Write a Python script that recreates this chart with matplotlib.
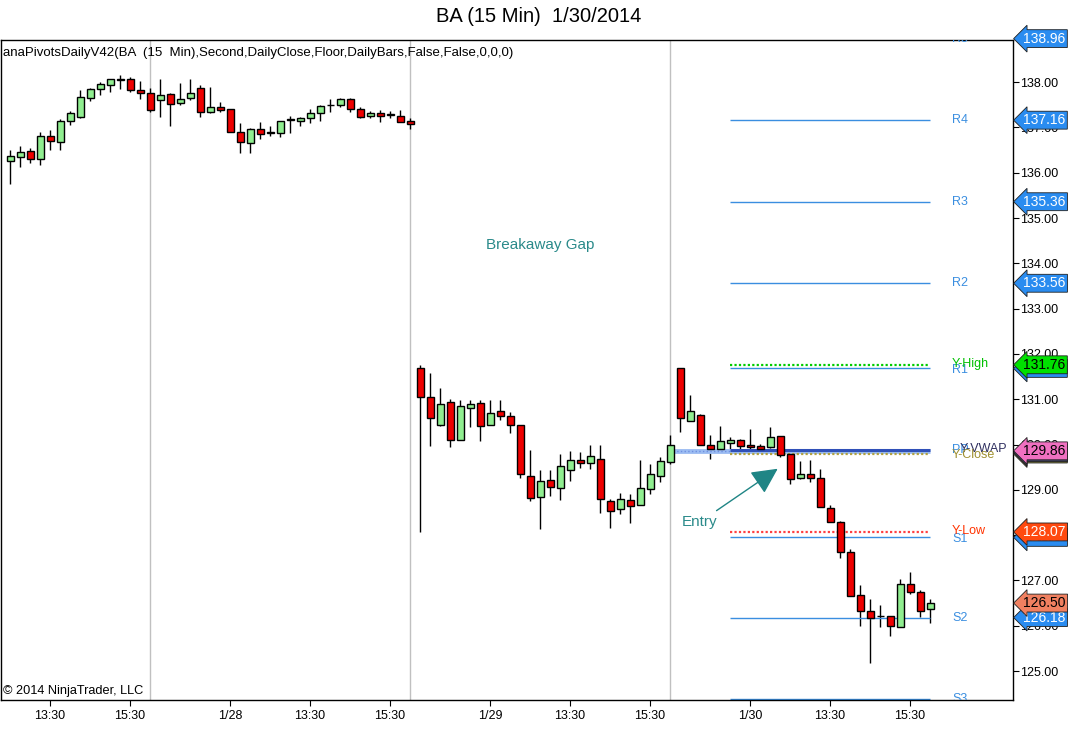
import numpy as np
import matplotlib
matplotlib.use('Agg')
import matplotlib.pyplot as plt
import matplotlib.transforms as mtransforms

# 15 minute bars, BA, 1/27 12:30 .. 1/30 16:00
opens = [136.25, 136.35, 136.47, 136.31, 136.82, 136.67, 137.15, 137.22, 137.66, 137.84,
         137.93, 138.04, 138.08, 137.82, 137.77, 137.60, 137.73, 137.54, 137.66, 137.88,
         137.34, 137.44, 137.40, 136.91, 136.65, 136.96, 136.89, 136.88, 137.17, 137.15,
         137.20, 137.31, 137.49, 137.49, 137.62, 137.40, 137.26, 137.32, 137.28, 137.26,
         137.14, 131.68, 131.04, 130.43, 130.93, 130.10, 130.80, 130.91, 130.42, 130.73,
         130.62, 130.42, 129.30, 128.85, 129.21, 129.03, 129.43, 129.65, 129.60, 129.69,
         128.75, 128.57, 128.77, 128.66, 129.01, 129.31, 129.62, 131.68, 130.51, 130.66,
         129.98, 129.91, 130.04, 130.11, 129.99, 129.97, 129.94, 130.19, 129.78, 129.25,
         129.36, 129.27, 128.59, 128.28, 127.62, 126.67, 126.33, 126.21, 126.22, 125.98,
         126.93, 126.74, 126.36]
highs = [136.51, 136.59, 136.54, 136.90, 136.94, 137.19, 137.37, 137.82, 137.86, 138.00,
         138.08, 138.15, 138.12, 138.02, 137.88, 138.06, 137.77, 137.97, 138.08, 137.93,
         137.90, 137.57, 137.40, 137.10, 136.99, 137.11, 137.04, 137.15, 137.26, 137.24,
         137.40, 137.50, 137.62, 137.64, 137.64, 137.44, 137.36, 137.38, 137.37, 137.38,
         137.20, 131.75, 131.57, 131.24, 131.00, 130.98, 130.98, 130.98, 130.98, 130.98,
         130.71, 130.42, 129.88, 129.43, 129.43, 129.79, 129.85, 129.83, 129.99, 129.99,
         128.79, 128.93, 128.91, 129.66, 129.58, 129.72, 130.20, 131.68, 131.09, 130.68,
         130.21, 130.41, 130.16, 130.13, 130.34, 130.02, 130.38, 130.19, 129.78, 129.63,
         129.66, 129.46, 128.66, 128.31, 127.69, 126.90, 126.59, 126.45, 126.22, 127.04,
         127.19, 126.79, 126.59]
lows = [135.76, 136.12, 136.21, 136.17, 136.51, 136.50, 137.05, 137.20, 137.59, 137.72,
        137.79, 137.84, 137.79, 137.62, 137.34, 137.23, 137.04, 137.50, 137.60, 137.23,
        137.31, 137.34, 136.90, 136.44, 136.43, 136.75, 136.82, 136.79, 136.88, 137.04,
        137.09, 137.15, 137.33, 137.46, 137.33, 137.21, 137.21, 137.12, 137.20, 137.11,
        136.97, 128.06, 129.97, 130.41, 129.95, 130.09, 130.39, 130.08, 130.42, 130.54,
        130.26, 129.27, 128.76, 128.13, 128.87, 128.77, 129.20, 129.49, 129.47, 128.49,
        128.15, 128.47, 128.26, 128.66, 128.91, 129.18, 129.58, 130.28, 130.51, 129.99,
        129.68, 129.89, 129.82, 129.79, 129.88, 129.89, 129.93, 129.73, 129.12, 129.23,
        129.18, 128.61, 128.28, 127.49, 126.66, 126.00, 125.17, 125.98, 125.78, 125.98,
        126.71, 126.20, 126.07]
closes = [136.37, 136.45, 136.31, 136.82, 136.71, 137.15, 137.31, 137.68, 137.84, 137.95,
          138.06, 138.08, 137.82, 137.75, 137.38, 137.71, 137.51, 137.63, 137.77, 137.33,
          137.44, 137.38, 136.90, 136.67, 136.96, 136.85, 136.87, 137.15, 137.17, 137.21,
          137.32, 137.47, 137.49, 137.62, 137.40, 137.23, 137.32, 137.26, 137.28, 137.12,
          137.07, 131.04, 130.58, 130.89, 130.11, 130.84, 130.89, 130.40, 130.69, 130.63,
          130.42, 129.34, 128.81, 129.19, 129.07, 129.52, 129.65, 129.60, 129.74, 128.79,
          128.54, 128.79, 128.65, 129.03, 129.34, 129.63, 130.00, 130.58, 130.75, 129.99,
          129.91, 130.07, 130.11, 129.97, 129.94, 129.91, 130.16, 129.77, 129.23, 129.35,
          129.25, 128.61, 128.28, 127.62, 126.66, 126.33, 126.18, 126.21, 125.99, 126.93,
          126.75, 126.33, 126.50]

session_ends = [14, 40, 66]
tick_pos = [4, 12, 22, 30, 38, 48, 56, 64, 74, 82, 90]
tick_labels = ['13:30', '15:30', '1/28', '13:30', '15:30', '1/29',
               '13:30', '15:30', '1/30', '13:30', '15:30']

pivot_names = ['R5', 'R4', 'R3', 'R2', 'R1', 'PP', 'S1', 'S2', 'S3']
pivot_values = [138.96, 137.16, 135.36, 133.56, 131.68, 129.87, 127.95, 126.18, 124.38]
y_high = 131.76
y_low = 128.07
y_close = 129.79
y_vwap = 129.86
last_price = 126.50

plt.rcParams['font.family'] = ['Liberation Sans', 'DejaVu Sans']

fig = plt.figure(figsize=(10.77, 7.56), dpi=100)
ax = fig.add_axes([1 / 1077, 56 / 756, 1012 / 1077, 660 / 756])

# session dividers
for s in session_ends:
    ax.axvline(s, color='#c0c0c0', lw=1, zorder=1)

# candles
x = np.arange(len(opens))
for i in x:
    o, h, l, c = opens[i], highs[i], lows[i], closes[i]
    ax.vlines(i, l, h, color='black', lw=1, zorder=2)
    col = '#90ee90' if c >= o else '#ee0000'
    ax.bar(i, max(abs(c - o), 0.012), bottom=min(o, c), width=0.7,
           color=col, edgecolor='black', lw=1, zorder=3)

# yesterday vwap band and pivot lines
ax.hlines(y_vwap, 66.3, 92, color='#9bbcf2', lw=3.5, zorder=2)
ax.hlines(y_vwap, 66.3, 72, color='#6f8fe0', lw=1, linestyles=':', zorder=2)
pcol = '#3a8ee0'
for name, v in zip(pivot_names, pivot_values):
    lw = 2.2 if name == 'PP' else 1
    c = '#3050b8' if name == 'PP' else pcol
    ax.hlines(v, 72, 92, color=c, lw=lw, zorder=2)
ax.hlines(y_high, 72, 92, color='#00cc00', lw=1.6, linestyles=(0, (1, 1)), zorder=2)
ax.hlines(y_low, 72, 92, color='#ff4040', lw=1.6, linestyles=(0, (1, 1)), zorder=2)
ax.hlines(y_close, 72, 92, color='#b0a040', lw=1.6, linestyles=(0, (1, 1)), zorder=2)

# pivot labels
lx = 94.2
for name, v in zip(pivot_names, pivot_values):
    ax.text(lx, v - (0.04 if name in ('R1', 'S1') else 0), name, color=pcol,
            fontsize=9, va='center', ha='left', clip_on=True)
ax.text(lx, y_high + 0.02, 'Y-High', color='#00c000', fontsize=9, va='center', clip_on=True)
ax.text(lx, y_low + 0.02, 'Y-Low', color='#ff3300', fontsize=9, va='center', clip_on=True)
ax.text(lx + 0.8, y_vwap + 0.03, 'Y-VWAP', color='#303060', fontsize=9, va='center', clip_on=True)
ax.text(lx, y_close - 0.02, 'Y-Close', color='#a09030', fontsize=9, va='center', clip_on=True)

# annotations
ax.text(53, 134.40, 'Breakaway Gap', color='#2a8a8a', fontsize=11, ha='center', va='center')
ax.annotate('Entry', xy=(77, 129.50), xytext=(69, 128.29), color='#2a8a8a', fontsize=11,
            ha='center', va='center',
            arrowprops=dict(arrowstyle='-|>,head_length=1.0,head_width=0.5',
                            color='#1f8585', lw=1, mutation_scale=16, shrinkA=2))

ax.set_xlim(-0.9, 100.3)
ax.set_ylim(124.36, 138.93)

ax.yaxis.tick_right()
ax.set_yticks(np.arange(125, 139))
ax.set_yticklabels(['%.2f' % v for v in np.arange(125, 139)])
ax.tick_params(axis='y', direction='out', length=4, labelsize=9, pad=1)
ax.set_xticks(tick_pos)
ax.set_xticklabels(tick_labels)
ax.tick_params(axis='x', direction='out', length=4, labelsize=9, pad=3)
for sp in ax.spines.values():
    sp.set_color('black')
    sp.set_linewidth(1)

# price markers on the right axis
trans = mtransforms.blended_transform_factory(ax.transAxes, ax.transData)


def marker(val, fc, tc, dy=0.0):
    ax.text(1.010, val + dy, '%.2f' % val, transform=trans, ha='left', va='center',
            fontsize=10, color=tc, clip_on=False, zorder=5,
            bbox=dict(boxstyle='larrow,pad=0.14', fc=fc, ec='#202020', lw=0.6))


marker(pivot_values[0], '#2a8cf0', 'white')
marker(pivot_values[1], '#2a8cf0', 'white')
marker(pivot_values[2], '#2a8cf0', 'white')
marker(pivot_values[3], '#2a8cf0', 'white')
marker(pivot_values[4], '#2a8cf0', 'white')
marker(y_high, '#00e000', 'black')
marker(y_close, '#808040', 'black')
marker(y_vwap, '#404060', 'black', dy=-0.04)
marker(y_vwap, '#f070c0', 'black')
marker(pivot_values[6], '#2a8cf0', 'white')
marker(y_low, '#ff4a10', 'white')
marker(pivot_values[7], '#2a8cf0', 'white')
marker(last_price, '#f08060', 'black')

fig.text(0.5, 1 - 16 / 756, 'BA (15 Min)  1/30/2014', ha='center', va='center', fontsize=14.5)
ax.text(0.002, 0.99, 'anaPivotsDailyV42(BA  (15  Min),Second,DailyClose,Floor,DailyBars,False,False,0,0,0)',
        transform=ax.transAxes, ha='left', va='top', fontsize=9.5)
ax.text(0.002, 0.004, '\u00a9 2014 NinjaTrader, LLC', transform=ax.transAxes,
        ha='left', va='bottom', fontsize=9.2)

fig.savefig('out.png', dpi=100)
